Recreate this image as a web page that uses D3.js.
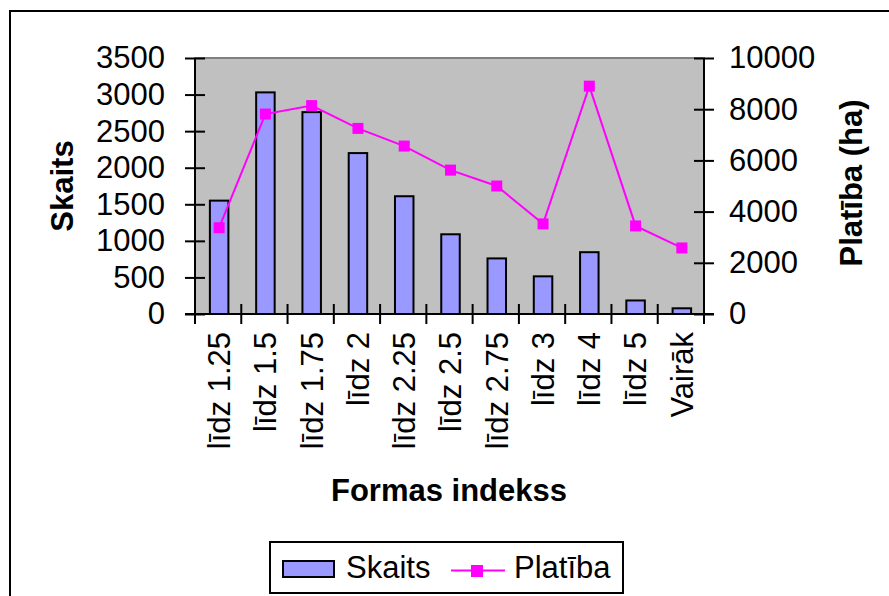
<!DOCTYPE html>
<html>
<head>
<meta charset="utf-8">
<script src="https://cdn.jsdelivr.net/npm/d3@7"></script>
<style>
  html, body { margin: 0; padding: 0; background: #fff; }
  svg { display: block; }
  text { font-family: "Liberation Sans", Arial, sans-serif; fill: #000; }
</style>
</head>
<body>
<script>
const categories = ["līdz 1.25", "līdz 1.5", "līdz 1.75", "līdz 2", "līdz 2.25", "līdz 2.5", "līdz 2.75", "līdz 3", "līdz 4", "līdz 5", "Vairāk"];
const skaits = [1550, 3030, 2760, 2200, 1610, 1090, 760, 515, 845, 185, 78];
const platiba = [3370, 7810, 8140, 7250, 6560, 5620, 5000, 3520, 8900, 3440, 2580];
const leftTicks = [0, 500, 1000, 1500, 2000, 2500, 3000, 3500];
const rightTicks = [0, 2000, 4000, 6000, 8000, 10000];
const seriesNames = ["Skaits", "Platība"];
const titles = { x: "Formas indekss", yLeft: "Skaits", yRight: "Platība (ha)" };

const W = 889, H = 596;
const plot = { x0: 195, x1: 704, y0: 314, y1: 58 };
const fs = 31;

const svg = d3.select("body").append("svg").attr("width", W).attr("height", H);

// outer chart border
svg.append("rect").attr("x", 10).attr("y", 11).attr("width", W + 20).attr("height", H + 20)
  .attr("fill", "#fff").attr("stroke", "#000").attr("stroke-width", 2);

const x = d3.scaleBand().domain(categories).range([plot.x0, plot.x1]).paddingInner(0).paddingOuter(0);
const yL = d3.scaleLinear().domain([0, 3500]).range([plot.y0, plot.y1]);
const yR = d3.scaleLinear().domain([0, 10000]).range([plot.y0, plot.y1]);

// plot area background
svg.append("rect").attr("x", plot.x0).attr("y", plot.y1)
  .attr("width", plot.x1 - plot.x0).attr("height", plot.y0 - plot.y1)
  .attr("fill", "#C0C0C0").attr("stroke", "#808080").attr("stroke-width", 2);

// bars
const bw = x.bandwidth() * 0.4;
svg.append("g").selectAll("rect").data(skaits).join("rect")
  .attr("x", (d, i) => x(categories[i]) + x.bandwidth() / 2 - bw / 2 + 1)
  .attr("y", d => yL(d))
  .attr("width", bw)
  .attr("height", d => yL(0) - yL(d))
  .attr("fill", "#9999FF").attr("stroke", "#000").attr("stroke-width", 2);

// axes
const tickLen = 10;
const gL = svg.append("g").attr("transform", `translate(${plot.x0},0)`)
  .call(d3.axisLeft(yL).tickValues(leftTicks).tickSize(tickLen).tickPadding(20).tickFormat(d3.format("d")));
const gR = svg.append("g").attr("transform", `translate(${plot.x1},0)`)
  .call(d3.axisRight(yR).tickValues(rightTicks).tickSize(tickLen).tickPadding(15).tickFormat(d3.format("d")));
const xTickPos = d3.range(categories.length + 1).map(i => plot.x0 + i * x.step());
const gX = svg.append("g").attr("transform", `translate(0,${plot.y0})`);
gX.append("line").attr("x1", plot.x0 - tickLen).attr("x2", plot.x1 + tickLen)
  .attr("stroke", "#000").attr("stroke-width", 2);
gX.selectAll("line.t").data(xTickPos).join("line").attr("class", "t")
  .attr("x1", d => d).attr("x2", d => d).attr("y1", -tickLen).attr("y2", tickLen)
  .attr("stroke", "#000").attr("stroke-width", 2);

[gL, gR].forEach(g => {
  g.select(".domain").attr("stroke", "#000").attr("stroke-width", 2)
    .attr("d", `M0,${plot.y0 + tickLen}V${plot.y1}`);
  g.selectAll(".tick line").attr("stroke", "#000").attr("stroke-width", 2);
  g.selectAll(".tick text").attr("font-size", fs).attr("font-family", "Liberation Sans, Arial, sans-serif");
});
gL.selectAll(".tick line").attr("x1", tickLen).attr("x2", -tickLen);
gR.selectAll(".tick line").attr("x1", -tickLen).attr("x2", tickLen);

// x tick labels (rotated)
svg.append("g").selectAll("text").data(categories).join("text")
  .attr("transform", d => `translate(${x(d) + x.bandwidth() / 2 + 1},${plot.y0 + 18}) rotate(-90)`)
  .attr("text-anchor", "end").attr("dy", "0.35em").attr("font-size", fs)
  .text(d => d);

// line series
const line = d3.line().x((d, i) => x(categories[i]) + x.bandwidth() / 2 + 1).y(d => yR(d));
svg.append("path").datum(platiba).attr("d", line)
  .attr("fill", "none").attr("stroke", "#FF00FF").attr("stroke-width", 2);
const ms = 11;
svg.append("g").selectAll("rect").data(platiba).join("rect")
  .attr("x", (d, i) => x(categories[i]) + x.bandwidth() / 2 + 1 - ms / 2)
  .attr("y", d => yR(d) - ms / 2)
  .attr("width", ms).attr("height", ms).attr("fill", "#FF00FF");

// axis titles
svg.append("text").attr("transform", `translate(62,${(plot.y0 + plot.y1) / 2}) rotate(-90)`)
  .attr("text-anchor", "middle").attr("dy", "0.35em").attr("font-size", fs).attr("font-weight", "bold")
  .text(titles.yLeft);
svg.append("text").attr("transform", `translate(851,${(plot.y0 + plot.y1) / 2 - 3}) rotate(-90)`)
  .attr("text-anchor", "middle").attr("dy", "0.35em").attr("font-size", fs).attr("font-weight", "bold")
  .text(titles.yRight);
svg.append("text").attr("x", 449).attr("y", 501)
  .attr("text-anchor", "middle").attr("font-size", fs).attr("font-weight", "bold")
  .text(titles.x);

// legend
const lg = svg.append("g");
lg.append("rect").attr("x", 270).attr("y", 542).attr("width", 353).attr("height", 51)
  .attr("fill", "#fff").attr("stroke", "#000").attr("stroke-width", 2);
lg.append("rect").attr("x", 283).attr("y", 561).attr("width", 51).attr("height", 16)
  .attr("fill", "#9999FF").attr("stroke", "#000").attr("stroke-width", 2);
lg.append("text").attr("x", 346).attr("y", 567).attr("dy", "0.35em").attr("font-size", fs).text(seriesNames[0]);
lg.append("line").attr("x1", 451).attr("x2", 505).attr("y1", 570.5).attr("y2", 570.5)
  .attr("stroke", "#FF00FF").attr("stroke-width", 2);
lg.append("rect").attr("x", 471).attr("y", 565).attr("width", 12).attr("height", 12).attr("fill", "#FF00FF");
lg.append("text").attr("x", 514).attr("y", 567).attr("dy", "0.35em").attr("font-size", fs).text(seriesNames[1]);
</script>
</body>
</html>
